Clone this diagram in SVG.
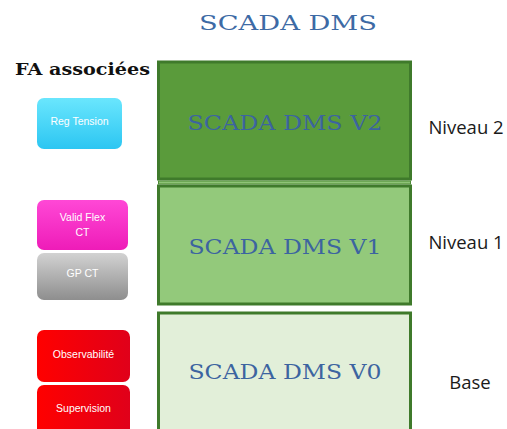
<svg xmlns="http://www.w3.org/2000/svg" width="507" height="429" viewBox="0 0 507 429">
<defs>
<linearGradient id="gCyan" x1="0" y1="0" x2="0" y2="1"><stop offset="0" stop-color="#6ae6fd"/><stop offset="1" stop-color="#2cc6f2"/></linearGradient>
<linearGradient id="gMag" x1="0" y1="0" x2="0" y2="1"><stop offset="0" stop-color="#ff48d6"/><stop offset="1" stop-color="#ee1cb8"/></linearGradient>
<linearGradient id="gGray" x1="0" y1="0" x2="0" y2="1"><stop offset="0" stop-color="#d2d2d2"/><stop offset="1" stop-color="#8e8e8e"/></linearGradient>
<linearGradient id="gRed" x1="0" y1="0" x2="1" y2="0"><stop offset="0" stop-color="#ff0000"/><stop offset="1" stop-color="#e0001a"/></linearGradient>
</defs>
<style>
.lvl{stroke:#3f7a2b;stroke-width:3}
.lt{font-family:"DejaVu Serif","Liberation Serif",serif;font-size:20px;fill:#3c64a0;text-anchor:middle}
.btn{stroke:none}
.bt{font-family:"Liberation Sans",Arial,sans-serif;font-size:10.5px;fill:#ffffff;text-anchor:middle}
.nv{font-family:"Open Sans","Liberation Sans",sans-serif;font-size:18.5px;fill:#1a1a1a;text-anchor:middle}
</style>
<rect width="507" height="429" fill="#ffffff"/>
<text x="288" y="30" font-family="DejaVu Serif,serif" font-size="21" fill="#3d6aa5" text-anchor="middle" textLength="178" lengthAdjust="spacingAndGlyphs">SCADA DMS</text>
<text x="15" y="75" font-family="DejaVu Serif,serif" font-size="17" font-weight="bold" fill="#111111" textLength="135" lengthAdjust="spacingAndGlyphs">FA associées</text>

<g id="v2">
<rect class="lvl" x="158.5" y="62" width="252" height="117" fill="#5a9b3b"/>
<rect x="158.5" y="181" width="252" height="3" fill="#8fc477" stroke="#4d8a34" stroke-width="1"/>
<text class="lt" x="285" y="130" textLength="195" lengthAdjust="spacingAndGlyphs">SCADA DMS V2</text>
</g>
<g id="v1">
<rect class="lvl" x="158.5" y="186" width="252" height="118" fill="#93c97b"/>
<text class="lt" x="285" y="254" textLength="193" lengthAdjust="spacingAndGlyphs">SCADA DMS V1</text>
</g>
<g id="v0">
<rect class="lvl" x="158.5" y="313" width="252" height="120" fill="#e2efd9"/>
<text class="lt" x="285" y="379" textLength="193" lengthAdjust="spacingAndGlyphs">SCADA DMS V0</text>
</g>

<g id="niveau2"><text class="nv" x="466" y="134">Niveau 2</text></g>
<g id="niveau1"><text class="nv" x="466" y="249">Niveau 1</text></g>
<g id="base"><text class="nv" x="470" y="389">Base</text></g>

<g id="reg-tension">
<rect class="btn" x="37" y="98" width="85" height="51" rx="7" fill="url(#gCyan)"/>
<text class="bt" x="79.5" y="125">Reg Tension</text>
</g>
<g id="valid-flex">
<rect class="btn" x="37" y="200" width="91" height="50" rx="7" fill="url(#gMag)"/>
<text class="bt" x="82.5" y="221" font-size="11.5">Valid Flex</text>
<text class="bt" x="82.5" y="236" font-size="11.5">CT</text>
</g>
<g id="gp-ct">
<rect class="btn" x="37" y="253" width="91" height="47" rx="7" fill="url(#gGray)"/>
<text class="bt" x="82.5" y="277" fill="#eeeeee">GP CT</text>
</g>
<g id="observabilite">
<rect class="btn" x="37" y="330" width="93" height="52" rx="7" fill="url(#gRed)"/>
<text class="bt" x="83.5" y="358">Observabilité</text>
</g>
<g id="supervision">
<rect class="btn" x="37" y="385" width="93" height="50" rx="7" fill="url(#gRed)"/>
<text class="bt" x="83.5" y="412">Supervision</text>
</g>
<g id="connectors"/>
</svg>
